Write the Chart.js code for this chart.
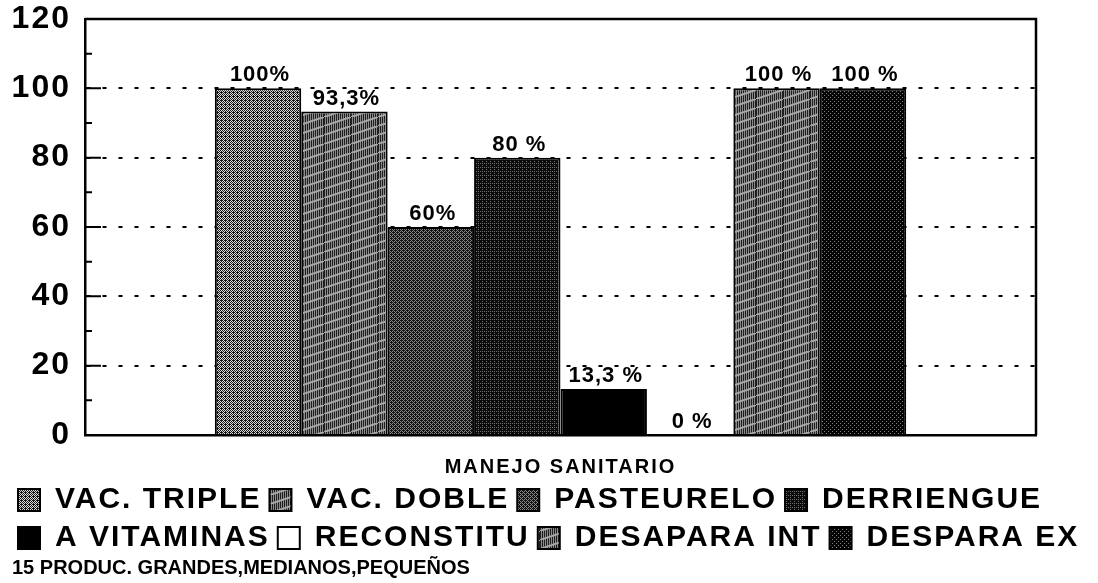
<!DOCTYPE html>
<html>
<head>
<meta charset="utf-8">
<script src="https://cdn.jsdelivr.net/npm/chart.js@4"></script>
<style>
	html, body { margin: 0; padding: 0; background: #fff; }
	#wrap { width: 1098px; height: 583px; }
</style>
</head>
<body>
<div id="wrap"><canvas id="chart"></canvas></div>
<script>
// Chart data
const categories = ["MANEJO SANITARIO"];
const seriesNames = ["VAC. TRIPLE", "VAC. DOBLE", "PASTEURELO", "DERRIENGUE", "A VITAMINAS", "RECONSTITU", "DESAPARA INT", "DESPARA EX"];
const seriesValues = [100, 93.3, 60, 80, 13.3, 0, 100, 100];
const valueLabels = ["100%", "93,3%", "60%", "80 %", "13,3 %", "0 %", "100 %", "100 %"];
const yTicks = [0, 20, 40, 60, 80, 100, 120];
const footNote = "15 PRODUC. GRANDES,MEDIANOS,PEQUEÑOS";

const fontFamily = "'Liberation Sans', Arial, Helvetica, sans-serif";

// Small tiles to imitate the printed textures
const bayer4 = [
	[0, 8, 2, 10],
	[12, 4, 14, 6],
	[3, 11, 1, 9],
	[15, 7, 13, 5],
];

function makeTile(w, h, paint) {
	const c = document.createElement("canvas");
	c.width = w;
	c.height = h;
	const cx = c.getContext("2d");
	paint(cx, w, h);
	return cx.createPattern(c, "repeat");
}

function dither(dark, light, level) {
	return makeTile(4, 4, (cx) => {
		for (let y = 0; y < 4; y++) {
			for (let x = 0; x < 4; x++) {
				cx.fillStyle = (bayer4[y][x] + 0.5) / 16 < level ? dark : light;
				cx.fillRect(x, y, 1, 1);
			}
		}
	});
}

function wavy() {
	return makeTile(27, 9, (cx, w, h) => {
		cx.fillStyle = "#8a8a8a";
		cx.fillRect(0, 0, w, h);
		cx.fillStyle = "#1e1e1e";
		for (let x = 0; x < w; x += 2) cx.fillRect(x, 0, 1, h);
		cx.strokeStyle = "#a8a8a8";
		cx.lineWidth = 2;
		cx.beginPath();
		cx.moveTo(0, h);
		cx.lineTo(w, 0);
		cx.stroke();
	});
}

const fills = [
	dither("#151515", "#dcdcdc", 0.55),
	wavy(),
	dither("#111111", "#8a8a8a", 0.62),
	dither("#0a0a0a", "#707070", 0.8),
	"#000000",
	"#ffffff",
	wavy(),
	dither("#050505", "#808080", 0.88),
];

// Canvas letter spacing, the scanned text is a bit wider than Arial
const spacing = "2px";
const spacingPlugin = {
	id: "spacing",
	beforeLayout(chart) {
		chart.ctx.letterSpacing = spacing;
	},
	beforeDraw(chart) {
		chart.ctx.letterSpacing = spacing;
	},
};

// Percent labels above the bars
const valueLabelPlugin = {
	id: "valueLabels",
	afterDatasetsDraw(chart) {
		const ctx = chart.ctx;
		ctx.save();
		ctx.letterSpacing = "1px";
		ctx.font = "bold 22px " + fontFamily;
		ctx.fillStyle = "#000";
		ctx.textAlign = "center";
		ctx.textBaseline = "alphabetic";
		chart.data.datasets.forEach((ds, i) => {
			const bar = chart.getDatasetMeta(i).data[0];
			ctx.fillText(valueLabels[i], bar.x + 2, bar.y - 7);
		});
		ctx.restore();
	},
};

// Top and right frame, inward tick marks on the y axis, footnote
const framePlugin = {
	id: "frame",
	afterDraw(chart) {
		const { ctx, chartArea: a, scales } = chart;
		const y = scales.y;
		ctx.save();
		ctx.strokeStyle = "#000";
		ctx.lineWidth = 2.5;
		ctx.beginPath();
		ctx.moveTo(a.left, a.top);
		ctx.lineTo(a.right, a.top);
		ctx.lineTo(a.right, a.bottom);
		ctx.stroke();

		ctx.lineWidth = 2;
		ctx.beginPath();
		for (let i = 0; i < yTicks.length - 1; i++) {
			const mid = y.getPixelForValue((yTicks[i] + yTicks[i + 1]) / 2);
			ctx.moveTo(a.left, mid);
			ctx.lineTo(a.left + 7, mid);
			if (i > 0) {
				const major = y.getPixelForValue(yTicks[i]);
				ctx.moveTo(a.left, major);
				ctx.lineTo(a.left + 16, major);
			}
		}
		ctx.stroke();

		ctx.letterSpacing = "0px";
		ctx.font = "bold 20px " + fontFamily;
		ctx.fillStyle = "#000";
		ctx.textAlign = "left";
		ctx.textBaseline = "middle";
		ctx.fillText(footNote, 12, chart.height - 15);
		ctx.restore();
	},
};

const datasets = seriesNames.map((name, i) => ({
	label: name,
	data: [seriesValues[i]],
	backgroundColor: fills[i],
	borderColor: "#000",
	borderWidth: 2,
	categoryPercentage: 0.727,
	barPercentage: 1.0,
}));

new Chart(document.getElementById("chart"), {
	type: "bar",
	data: {
		labels: categories,
		datasets,
	},
	options: {
		responsive: true,
		maintainAspectRatio: false,
		animation: false,
		devicePixelRatio: 1,
		layout: {
			padding: { left: 10, right: 0, top: 19, bottom: 28 },
		},
		plugins: {
			legend: {
				position: "bottom",
				align: "start",
				maxHeight: 78,
				labels: {
					boxWidth: 22,
					boxHeight: 22,
					padding: 8,
					color: "#000",
					font: { family: fontFamily, size: 30, weight: "bold" },
				},
			},
			title: { display: false },
			tooltip: { enabled: false },
		},
		scales: {
			x: {
				grid: { display: false, drawTicks: false },
				border: { display: true, color: "#000", width: 2.5 },
				ticks: {
					color: "#000",
					padding: 20,
					font: { family: fontFamily, size: 20, weight: "bold" },
				},
				afterFit(scale) {
					scale.height = 42;
				},
			},
			y: {
				min: 0,
				max: 120,
				ticks: {
					stepSize: 20,
					color: "#000",
					padding: 14,
					font: { family: fontFamily, size: 32, weight: "bold" },
				},
				grid: {
					drawTicks: false,
					lineWidth: 2,
					color: (c) => (c.tick && (c.tick.value === 0 || c.tick.value === 120) ? "rgba(0,0,0,0)" : "#000"),
				},
				border: { display: true, color: "#000", width: 2.5, dash: [4, 12] },
				afterFit(scale) {
					scale.width = 75;
					scale.paddingTop = 0;
					scale.paddingBottom = 0;
				},
			},
			rightGap: {
				type: "linear",
				position: "right",
				display: true,
				ticks: { display: false },
				grid: { display: false },
				border: { display: false },
				afterFit(scale) {
					scale.width = 62;
				},
			},
		},
	},
	plugins: [spacingPlugin, valueLabelPlugin, framePlugin],
});
</script>
</body>
</html>
